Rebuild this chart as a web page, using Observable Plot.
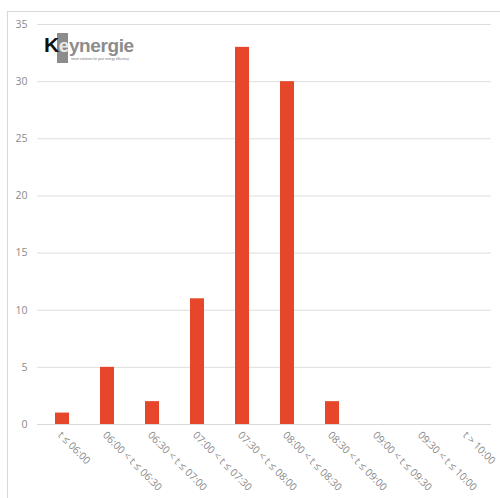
<!DOCTYPE html>
<html>
<head>
<meta charset="utf-8">
<script src="https://cdn.jsdelivr.net/npm/d3@7"></script>
<script src="https://cdn.jsdelivr.net/npm/@observablehq/plot@0.6"></script>
<style>
  html, body { margin: 0; padding: 0; background: #fff; }
  #wrap { position: relative; width: 500px; height: 498px; overflow: hidden; font-family: "Open Sans", sans-serif; }
  #frame { position: absolute; left: 7px; top: 11px; width: 520px; height: 520px; border: 1px solid #d9d9d9; box-sizing: border-box; }
  #chart { position: absolute; left: 0; top: 0; }
  #logo { position: absolute; left: 44px; top: 33px; height: 30px; width: 90px; }
  #logo .bar { position: absolute; left: 13px; top: 0; width: 11px; height: 30px; background: #8c8c8c; }
  #logo .word { position: absolute; left: 0; top: 2px; font-family: "Liberation Sans", Arial, sans-serif; font-weight: bold; font-size: 19px; letter-spacing: -0.4px; color: #8c8c8c; line-height: 20px; white-space: nowrap; }
  #logo .k { color: #111; font-size: 21px; }
  #logo .e { color: #e8e8e8; }
  #logo .tag { position: absolute; left: 27px; top: 24px; font-size: 3.2px; color: #777; white-space: nowrap; font-family: "Liberation Sans", sans-serif; }
</style>
</head>
<body>
<div id="wrap">
  <div id="frame"></div>
  <div id="chart"></div>
  <div id="logo">
    <div class="bar"></div>
    <div class="word"><span class="k">K</span><span class="e">e</span>ynergie</div>
    <div class="tag">smart solutions for your energy efficiency</div>
  </div>
</div>
<script>
// Arrival-time bins and the count in each
const categories = [
  "t ≤ 06:00",
  "06:00 < t ≤ 06:30",
  "06:30 < t ≤ 07:00",
  "07:00 < t ≤ 07:30",
  "07:30 < t ≤ 08:00",
  "08:00 < t ≤ 08:30",
  "08:30 < t ≤ 09:00",
  "09:00 < t ≤ 09:30",
  "09:30 < t ≤ 10:00",
  "t > 10:00"
];
const counts = [1, 5, 2, 11, 33, 30, 2, 0, 0, 0];
const yTicks = [0, 5, 10, 15, 20, 25, 30, 35];

const data = categories.map((c, i) => ({category: c, count: counts[i]}));

const chart = Plot.plot({
  width: 500,
  height: 498,
  marginLeft: 37,
  marginRight: 9,
  marginTop: 24,
  marginBottom: 74,
  style: {fontFamily: "Open Sans, sans-serif", background: "transparent", overflow: "visible"},
  x: {domain: categories, paddingInner: 0.69, paddingOuter: 0.345, align: 0.5},
  y: {domain: [0, 35]},
  marks: [
    Plot.gridY(yTicks, {stroke: "#dedede", strokeOpacity: 1, strokeWidth: 1}),
    Plot.axisY(yTicks, {tickSize: 0, tickPadding: 10, fontSize: 10.5, fill: "#8a8a8a", label: null}),
    Plot.barY(data, {x: "category", y: "count", fill: "#e6472a"}),
    Plot.ruleY([0], {stroke: "#d9d9d9"}),
    Plot.axisX({tickSize: 0, tickRotate: 45, tickPadding: 9, dx: -3, fontSize: 10.3, fill: "#8a8a8a", label: null})
  ]
});
document.getElementById("chart").appendChild(chart);
</script>
</body>
</html>
